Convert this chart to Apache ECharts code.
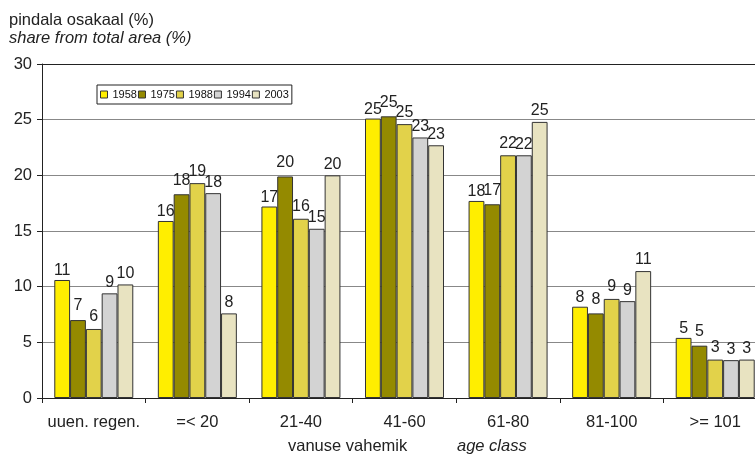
<!DOCTYPE html>
<html><head><meta charset="utf-8">
<script src="https://cdn.jsdelivr.net/npm/echarts@6/dist/echarts.min.js"></script>
<style>html,body{margin:0;padding:0;background:#fff}#c{width:755px;height:454px}</style>
</head><body><div id="c"></div>
<script>
const categories = ['uuen. regen.', '=< 20', '21-40', '41-60', '61-80', '81-100', '>= 101'];
const years = ['1958', '1975', '1988', '1994', '2003'];
const v1958 = [10.6, 15.9, 17.2, 25.1, 17.7, 8.2, 5.4];
const v1975 = [7.0, 18.3, 19.9, 25.3, 17.4, 7.6, 4.7];
const v1988 = [6.2, 19.3, 16.1, 24.6, 21.8, 8.9, 3.45];
const v1994 = [9.4, 18.4, 15.2, 23.4, 21.8, 8.7, 3.4];
const v2003 = [10.2, 7.6, 20.0, 22.7, 24.8, 11.4, 3.45];
const yTicks = [0, 5, 10, 15, 20, 25, 30];
const colors = ['#FFEE00', '#948A00', '#E2D24A', '#D3D3D3', '#E8E3C1'];
const labelDist = [1, 6, 4, 3, 3];
const seriesData = [v1958, v1975, v1988, v1994, v2003];

const font = 'Liberation Sans, Arial, sans-serif';
const chart = echarts.init(document.getElementById('c'));
chart.setOption({
  animation: false,
  backgroundColor: '#fff',
  textStyle: { fontFamily: font },
  grid: { left: 42, width: 725, top: 64, bottom: 56, containLabel: false, outerBoundsMode: 'none' },
  legend: {
    left: 97, top: 85,
    data: years,
    itemWidth: 7, itemHeight: 7, itemGap: 1,
    icon: 'rect',
    padding: [4, 3, 4, 3],
    borderColor: '#222', borderWidth: 1,
    itemStyle: { borderColor: '#333', borderWidth: 1 },
    textStyle: { fontSize: 11, color: '#111', fontFamily: font }
  },
  xAxis: {
    type: 'category', data: categories,
    axisLine: { lineStyle: { color: '#222', width: 1 } },
    axisTick: { show: true, length: 5, lineStyle: { color: '#222' } },
    axisLabel: { interval: 0, fontSize: 16.5, color: '#222', margin: 16, fontFamily: font }
  },
  yAxis: {
    type: 'value', min: 0, max: 30, interval: 5,
    axisLine: { show: true, lineStyle: { color: '#222', width: 1 } },
    axisTick: { show: true, length: 5, lineStyle: { color: '#222' } },
    axisLabel: { fontSize: 16.5, color: '#222', margin: 10, fontFamily: font,
      formatter: v => yTicks.includes(v) ? String(v) : '' },
    splitLine: { show: true, lineStyle: { color: ['#888', '#888', '#888', '#888', '#888', '#888', '#222'], width: 1 } }
  },
  series: years.map((y, i) => ({
    name: y, type: 'bar', data: seriesData[i],
    barWidth: 15.8, barGap: '0%',
    itemStyle: { color: colors[i], borderColor: '#333', borderWidth: 1 },
    label: { show: true, position: 'top', distance: labelDist[i], fontSize: 16, color: '#222', fontFamily: font,
      formatter: p => String(Math.round(p.value)) }
  })),
  graphic: [
    { type: 'text', left: 9, top: 12, style: { text: 'pindala osakaal (%)', fontSize: 16.5, fill: '#222', fontFamily: font } },
    { type: 'text', left: 9, top: 30, style: { text: 'share from total area (%)', fontSize: 16.5, fontStyle: 'italic', fill: '#222', fontFamily: font } },
    { type: 'text', left: 288, top: 438, style: { text: 'vanuse vahemik', fontSize: 16.5, fill: '#222', fontFamily: font } },
    { type: 'text', left: 457, top: 438, style: { text: 'age class', fontSize: 16.5, fontStyle: 'italic', fill: '#222', fontFamily: font } }
  ]
});
</script></body></html>
